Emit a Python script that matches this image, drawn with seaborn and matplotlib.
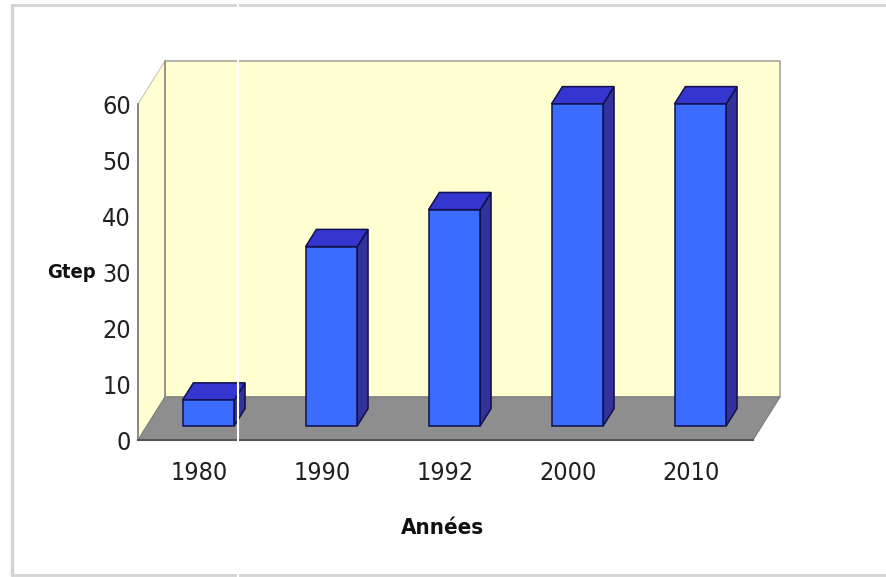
import matplotlib
matplotlib.use("Agg")
import matplotlib.pyplot as plt
from matplotlib.patches import Polygon
from matplotlib.lines import Line2D
import seaborn as sns
import pandas as pd

years = ["1980", "1990", "1992", "2000", "2010"]
values = [4.6, 32, 38.6, 57.5, 57.5]
y_ticks = [0, 10, 20, 30, 40, 50, 60]
y_label = "Gtep"
x_label = "Années"

sns.set_style("white")
plt.rcParams["font.family"] = ["DejaVu Sans"]
plt.rcParams["font.stretch"] = "condensed"

W, H = 887, 577
fig = plt.figure(figsize=(W / 100, H / 100), dpi=100)
ax = fig.add_axes([138 / W, (H - 440) / H, 615 / W, 336 / H])
ax.set_facecolor("none")

df = pd.DataFrame({"year": years, "value": values})
front_c = "#3C6CFF"
top_c = "#3535CF"
side_c = "#32329A"
wall_c = "#FFFFD2"
floor_c = "#8E8E8E"

sns.barplot(data=df, x="year", y="value", width=0.42, color=front_c,
            saturation=1, edgecolor="#10104a", linewidth=1.1, ax=ax, zorder=3)

ax.set_xlim(-0.5, 4.5)
ax.set_ylim(0, 60)
ymax = 60
DX, DY = 0.2195, 7.68
fx, fy = 0.33 * DX, 0.33 * DY
bx, by = 0.40 * DX, 0.40 * DY

xl, xr = -0.5, 4.5
back = Polygon([(xl + DX, DY), (xr + DX, DY), (xr + DX, ymax + DY), (xl + DX, ymax + DY)],
               closed=True, facecolor=wall_c, edgecolor="#A8A8A0", lw=1.2, zorder=0.5, clip_on=False)
left = Polygon([(xl, 0), (xl, ymax), (xl + DX, ymax + DY), (xl + DX, DY)],
               closed=True, facecolor=wall_c, edgecolor="#C8C8B8", lw=0.8, zorder=0.6, clip_on=False)
floor = Polygon([(xl, 0), (xr, 0), (xr + DX, DY), (xl + DX, DY)],
                closed=True, facecolor=floor_c, edgecolor="#7A7A7A", lw=0.8, zorder=0.7, clip_on=False)
for p in (back, left, floor):
    ax.add_patch(p)
ax.add_line(Line2D([xl + DX, xl + DX], [DY, ymax + DY], color="#8A8A80", lw=1.2, zorder=0.8, clip_on=False))

for p in list(ax.patches):
    if p in (back, left, floor):
        continue
    x0 = p.get_x() + fx
    w = p.get_width()
    h = p.get_height()
    p.set_x(x0)
    p.set_y(fy)
    p.set_clip_on(False)
    x1 = x0 + w
    y0, y1 = fy, fy + h
    side = Polygon([(x1, y0), (x1 + bx, y0 + by), (x1 + bx, y1 + by), (x1, y1)], closed=True,
                   facecolor=side_c, edgecolor="#10104a", lw=1.1, zorder=2.8, clip_on=False)
    top = Polygon([(x0, y1), (x1, y1), (x1 + bx, y1 + by), (x0 + bx, y1 + by)], closed=True,
                  facecolor=top_c, edgecolor="#10104a", lw=1.1, zorder=2.9, clip_on=False)
    ax.add_patch(side)
    ax.add_patch(top)

for s in ("top", "right"):
    ax.spines[s].set_visible(False)
ax.spines["left"].set_color("#808080")
ax.spines["left"].set_linewidth(1.3)
ax.spines["bottom"].set_color("#555555")
ax.spines["bottom"].set_linewidth(1.5)
ax.spines["left"].set_zorder(4)
ax.spines["bottom"].set_zorder(4)

ax.set_yticks(y_ticks)
ax.set_yticklabels([str(t) for t in y_ticks])
ax.tick_params(axis="y", length=3, width=1, color="#555555", pad=2, labelsize=18, labelcolor="#202020")
ax.set_xticks(range(len(years)))
ax.set_xticklabels(years)
ax.set_xticks([i - 0.5 for i in range(len(years) + 1)], minor=True)
ax.tick_params(axis="x", which="major", length=0, pad=15, labelsize=18, labelcolor="#202020")
ax.tick_params(axis="x", which="minor", length=3, width=1, color="#555555")
ax.set_xlabel("")
ax.set_ylabel("")

fig.text(443 / W, 1 - 528 / H, x_label, ha="center", va="center", fontsize=16,
         fontweight="bold", color="#111111")
fig.text(71 / W, 1 - 272 / H, y_label, ha="center", va="center", fontsize=14.5,
         fontweight="bold", color="#111111")

fc = "#D4D4D4"
fig.add_artist(Line2D([12 / W, 1], [1 - 5 / H, 1 - 5 / H], color=fc, lw=2, transform=fig.transFigure))
fig.add_artist(Line2D([12 / W, 12 / W], [1 - 5 / H, 1 - 575 / H], color=fc, lw=2.5, transform=fig.transFigure))
fig.add_artist(Line2D([12 / W, 1], [1 - 575 / H, 1 - 575 / H], color=fc, lw=2, transform=fig.transFigure))
fig.add_artist(Line2D([238 / W, 238 / W], [0, 1], color="white", lw=1.5, transform=fig.transFigure, zorder=10))

fig.savefig("out.png", dpi=100)
